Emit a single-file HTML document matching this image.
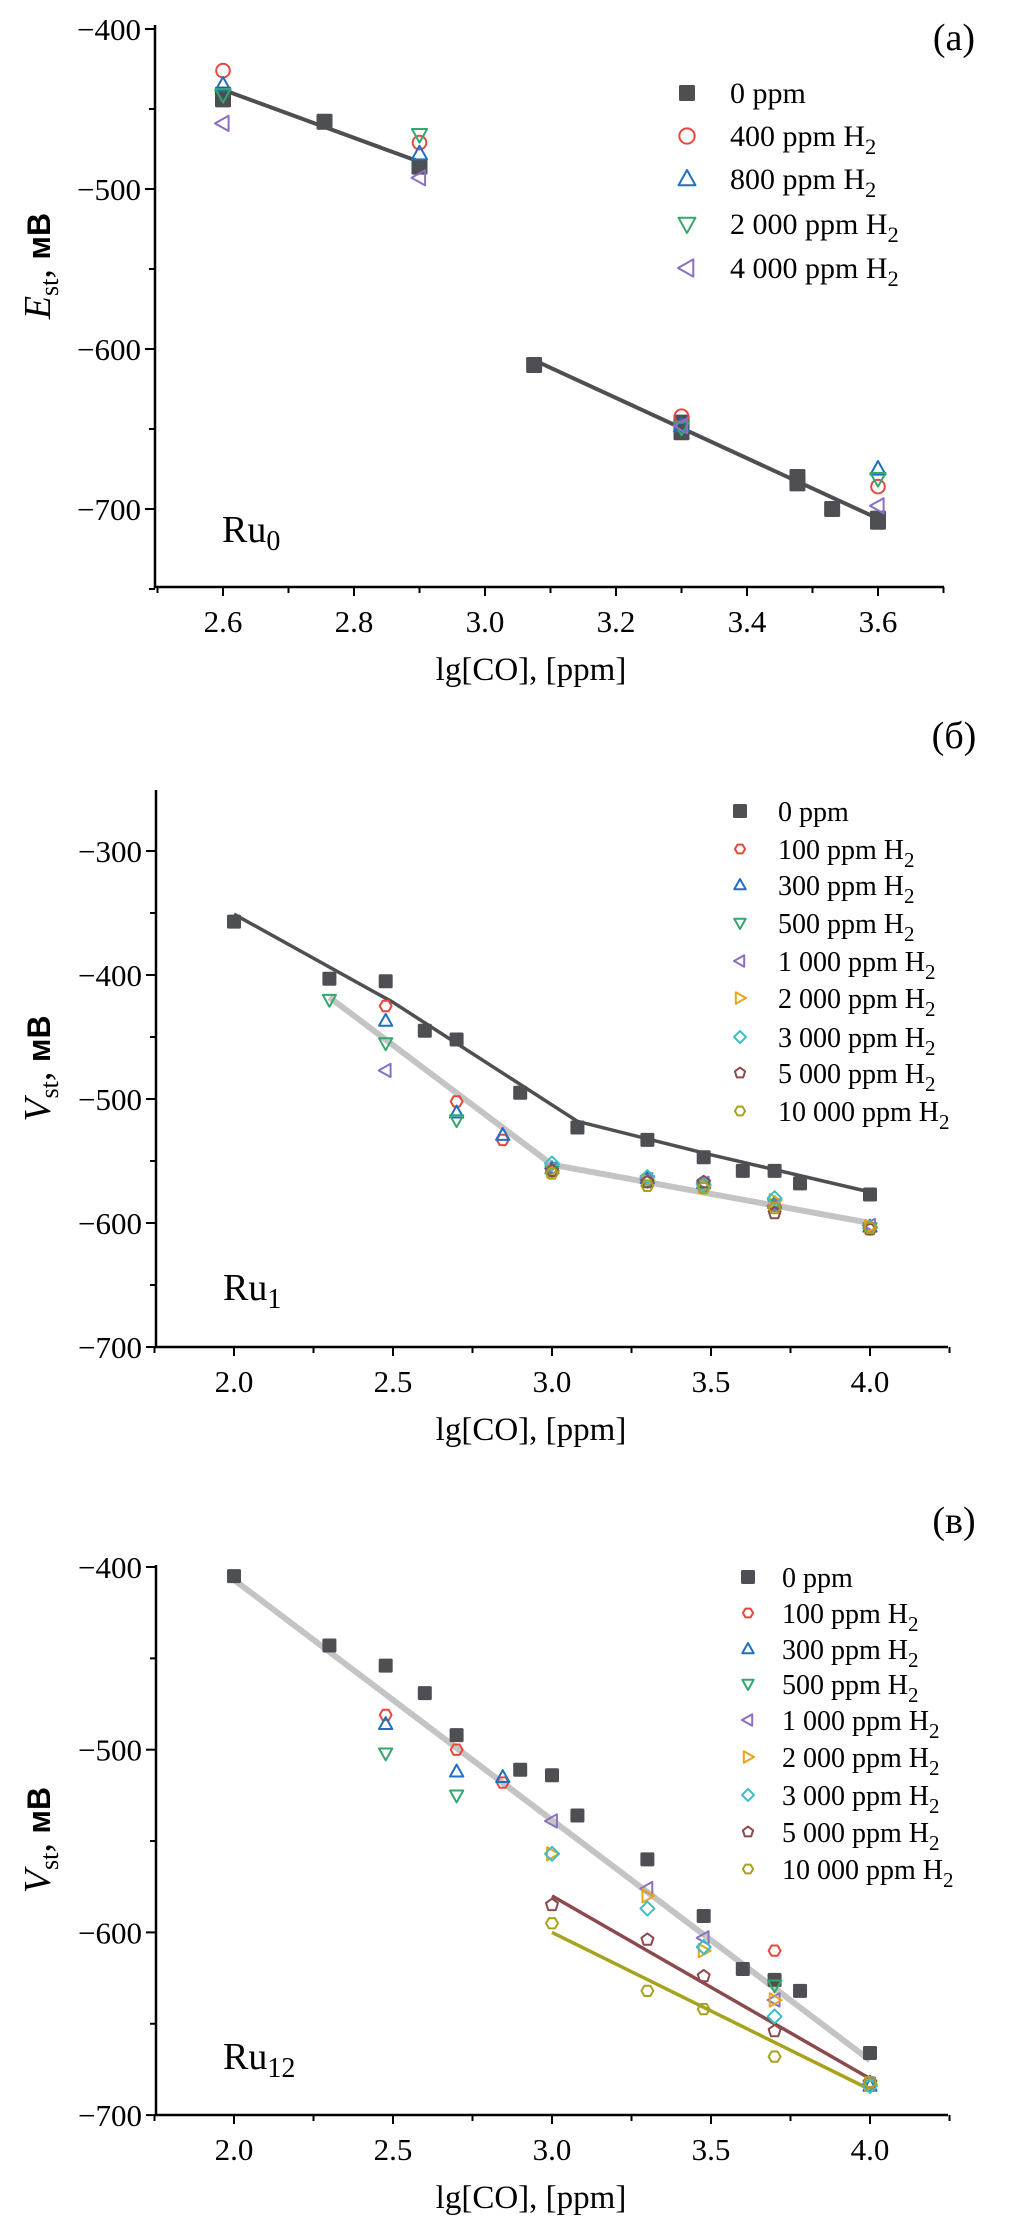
<!DOCTYPE html>
<html><head><meta charset="utf-8">
<style>
html,body{margin:0;padding:0;background:#fff;}
svg{display:block;}
text{font-family:"Liberation Serif",serif;fill:#000;}
</style></head>
<body>
<svg id="fig" width="1010" height="2228" viewBox="0 0 1010 2228" xmlns="http://www.w3.org/2000/svg"></svg>
<script>
// ---------- Panel A data ----------
const aX0 = [2.6,2.6,2.755,2.9,3.075,3.3,3.3,3.477,3.477,3.53,3.6,3.6];
const aY0 = [-441,-444,-458,-486,-610,-646,-652,-680,-684,-700,-706,-708];
const aX400 = [2.6,2.9,3.3,3.6];
const aY400 = [-426,-471,-642,-686];
const aX800 = [2.6,2.9,3.3,3.6];
const aY800 = [-435,-478,-648,-675];
const aX2000 = [2.6,2.9,3.3,3.6];
const aY2000 = [-441,-466,-649,-681];
const aX4000 = [2.6,2.9,3.3,3.6];
const aY4000 = [-459,-493,-648,-698];
const aFit1X = [2.6,2.9]; const aFit1Y = [-438,-483];
const aFit2X = [3.075,3.6]; const aFit2Y = [-607,-706];
const aXTicks = ["2.6","2.8","3.0","3.2","3.4","3.6"];
const aYTicks = ["−400","−500","−600","−700"];

// ---------- Panel B data ----------
const bX0 = [2.0,2.3,2.477,2.6,2.7,2.9,3.08,3.3,3.477,3.6,3.7,3.78,4.0];
const bY0 = [-357,-403,-405,-445,-452,-495,-523,-533,-547,-558,-558,-568,-577];
const bX100 = [2.477,2.7,2.845,3.0,3.3,3.477,3.7,4.0];
const bY100 = [-425,-502,-533,-557,-565,-570,-586,-605];
const bX300 = [2.477,2.7,2.845,3.0,3.3,3.477,3.7,4.0];
const bY300 = [-437,-511,-529,-556,-564,-568,-584,-603];
const bX500 = [2.3,2.477,2.7,3.0,3.3,3.477,3.7,4.0];
const bY500 = [-420,-455,-517,-558,-566,-570,-585,-604];
const bX1000 = [2.477,3.0,3.3,3.477,3.7,4.0];
const bY1000 = [-477,-556,-565,-568,-586,-602];
const bX2000 = [3.0,3.3,3.477,3.7,4.0];
const bY2000 = [-558,-566,-570,-582,-603];
const bX3000 = [3.0,3.3,3.477,3.7,4.0];
const bY3000 = [-552,-563,-569,-580,-604];
const bX5000 = [3.0,3.3,3.477,3.7,4.0];
const bY5000 = [-558,-567,-567,-592,-605];
const bX10000 = [3.0,3.3,3.477,3.7,4.0];
const bY10000 = [-560,-570,-572,-588,-604];
const bFitDarkX = [2.0,2.5,3.08,3.5,4.0]; const bFitDarkY = [-351,-422,-518,-545,-575];
const bFitGrayX = [2.3,3.0,4.0]; const bFitGrayY = [-418,-553,-600];
const bXTicks = ["2.0","2.5","3.0","3.5","4.0"];
const bYTicks = ["−300","−400","−500","−600","−700"];

// ---------- Panel C data ----------
const cX0 = [2.0,2.3,2.477,2.6,2.7,2.9,3.0,3.08,3.3,3.477,3.6,3.7,3.78,4.0];
const cY0 = [-405,-443,-454,-469,-492,-511,-514,-536,-560,-591,-620,-626,-632,-666];
const cX100 = [2.477,2.7,2.845,3.7,4.0];
const cY100 = [-481,-500,-518,-610,-682];
const cX300 = [2.477,2.7,2.845,4.0];
const cY300 = [-486,-512,-515,-684];
const cX500 = [2.477,2.7,3.7,4.0];
const cY500 = [-502,-525,-629,-684];
const cX1000 = [3.0,3.3,3.477,3.7,4.0];
const cY1000 = [-539,-576,-603,-637,-683];
const cX2000 = [3.0,3.3,3.477,3.7,4.0];
const cY2000 = [-557,-580,-610,-637,-683];
const cX3000 = [3.0,3.3,3.477,3.7,4.0];
const cY3000 = [-557,-587,-608,-646,-684];
const cX5000 = [3.0,3.3,3.477,3.7,4.0];
const cY5000 = [-585,-604,-624,-654,-682];
const cX10000 = [3.0,3.3,3.477,3.7,4.0];
const cY10000 = [-595,-632,-642,-668,-682];
const cFitGrayX = [2.0,4.0]; const cFitGrayY = [-407,-670];
const cFitBrownX = [3.0,4.0]; const cFitBrownY = [-580,-680];
const cFitOliveX = [3.0,4.0]; const cFitOliveY = [-600,-686];
const cYTicks = ["−400","−500","−600","−700"];

const NS = "http://www.w3.org/2000/svg";
const svg = document.getElementById('fig');
function el(tag, attrs, parent){
  const e = document.createElementNS(NS, tag);
  for (const k in attrs) e.setAttribute(k, attrs[k]);
  (parent||svg).appendChild(e);
  return e;
}
const COL = {k:"#4d4f52",r:"#e5483f",b:"#1f6fc2",g:"#34a86c",p:"#8a70c0",o:"#e6a51c",c:"#3dbfc4",br:"#8b4a4e",ol:"#a8a21e"};

function marker(g, shape, color, cx, cy, s){
  let m;
  const sw = 2;
  if (shape==="sq") m = el('rect',{x:cx-s,y:cy-s,width:2*s,height:2*s,fill:color,rx:1.5},g);
  else if (shape==="ci") m = el('circle',{cx:cx,cy:cy,r:s*0.85,fill:"none",stroke:color,"stroke-width":sw},g);
  else {
    let pts;
    if (shape==="tu") pts=[[0,-s],[s*0.95,s*0.7],[-s*0.95,s*0.7]];
    else if (shape==="td") pts=[[0,s],[s*0.95,-s*0.7],[-s*0.95,-s*0.7]];
    else if (shape==="tl") pts=[[-s,0],[s*0.7,-s*0.95],[s*0.7,s*0.95]];
    else if (shape==="tr") pts=[[s,0],[-s*0.7,-s*0.95],[-s*0.7,s*0.95]];
    else if (shape==="di") pts=[[0,-s],[s,0],[0,s],[-s,0]];
    else if (shape==="pe"){pts=[];for(let i=0;i<5;i++){const a=-Math.PI/2+i*2*Math.PI/5;pts.push([s*0.9*Math.cos(a),s*0.9*Math.sin(a)]);}}
    else {pts=[];for(let i=0;i<6;i++){const a=i*Math.PI/3;pts.push([s*0.85*Math.cos(a),s*0.85*Math.sin(a)]);}}
    m = el('polygon',{points:pts.map(p=>(cx+p[0]).toFixed(1)+","+(cy+p[1]).toFixed(1)).join(" "),fill:"none",stroke:color,"stroke-width":sw,"stroke-linejoin":"round"},g);
  }
  return m;
}

function panel(cfg){
  const g = el('g',{});
  
  
  const X = v => cfg.x0 + (v - cfg.xv0) * cfg.xs;
  const Y = v => cfg.y0 + (v - cfg.yv0) * cfg.ys;
  const ax = el('path',{d:`M${cfg.axL},${cfg.axTop} L${cfg.axL},${cfg.axBot} L${cfg.axR},${cfg.axBot}`,fill:"none",stroke:"#000","stroke-width":2.5},g);
  
  
  for (let v=cfg.xMinorStart; v<=cfg.xMax+1e-9; v+=cfg.xMinor){
    const px = X(v);
    const major = Math.abs(v/cfg.xMajor - Math.round(v/cfg.xMajor))<1e-6;
    el('line',{x1:px,x2:px,y1:cfg.axBot,y2:cfg.axBot+(major?9:6),stroke:"#000","stroke-width":2},g);
  }
  cfg.xTicks.forEach(t=>{
    const tx = el('text',{x:X(parseFloat(t)),y:cfg.axBot+45,"text-anchor":"middle","font-size":31},g);
    tx.textContent = t;
    
    
  });
  for (let v=cfg.yMinorStart; v<=cfg.yMax+1e-9; v+=50){
    const py = Y(v);
    const major = Math.abs(v % 100) < 1e-6;
    el('line',{x1:cfg.axL,x2:cfg.axL-(major?10:6),y1:py,y2:py,stroke:"#000","stroke-width":2},g);
  }
  cfg.yTicks.forEach(t=>{
    const v = -parseFloat(t.replace("−",""));
    const ty = el('text',{x:cfg.axL-14,y:Y(v)+11,"text-anchor":"end","font-size":31},g);
    ty.textContent = t;
    
    
  });
  cfg.fits.forEach(f=>{
    const pl = el('polyline',{points:f.xs.map((x,i)=>X(x).toFixed(1)+","+Y(f.ys[i]).toFixed(1)).join(" "),fill:"none",stroke:f.color,"stroke-width":f.w,"stroke-linejoin":"round"},g);
    
    
  });
  cfg.series.forEach(s=>{
    const sg = el('g',{},g);
    
    
    s.xs.forEach((x,i)=>{
      const m = marker(sg, s.shape, s.color, X(x), Y(s.ys[i]), s.shape==="sq"?cfg.sqSize:cfg.mSize);
      
      
    });
  });
  const lg = el('g',{},g);
  
  
  cfg.series.forEach((s,i)=>{
    const cy = cfg.legY[i];
    const le = el('g',{},lg);
    
    
    marker(le, s.shape, s.color, cfg.legMX, cy, s.shape==="sq"?cfg.legSq:cfg.legM);
    const t = el('text',{x:cfg.legTX,y:cy+10,"font-size":cfg.legFont},le);
    t.textContent = s.label;
    if (s.label.endsWith(" H")){
      const sub = el('tspan',{dy:8,"font-size":cfg.legFont*0.75},t);
      sub.textContent = "2";
    }
  });
  const pl = el('text',{x:cfg.letterX,y:cfg.letterY,"text-anchor":"middle","font-size":38},g);
  pl.textContent = cfg.letter;
  
  
  const sl = el('text',{x:cfg.axL+67,y:cfg.sampleY,"font-size":38},g);
  sl.textContent = "Ru";
  const ss = el('tspan',{dy:8,"font-size":28},sl);
  ss.textContent = cfg.sampleSub;
  
  
  const xt = el('text',{x:531,y:cfg.axBot+93,"text-anchor":"middle","font-size":33},g);
  xt.textContent = "lg[CO], [ppm]";
  
  
  const cy = (cfg.axTop+cfg.axBot)/2 + cfg.yTitleShift;
  const yt = el('text',{x:0,y:0,"text-anchor":"middle","font-size":38,transform:`translate(50,${cy}) rotate(-90)`},g);
  const t1 = el('tspan',{"font-style":"italic"},yt); t1.textContent = cfg.yVar;
  const t2 = el('tspan',{dy:8,"font-size":26},yt); t2.textContent = "st";
  const t3 = el('tspan',{dy:-8},yt); t3.textContent = ", ";
  const t4 = el('tspan',{"font-family":"'Liberation Sans',sans-serif","font-weight":"bold","font-size":32},yt); t4.textContent = "мВ";
  
  
}

panel({name:"panel-a",x0:223,xv0:2.6,xs:655,y0:29,yv0:-400,ys:-1.6,
  axL:155,axR:944,axTop:25,axBot:587,xMinorStart:2.5,xMinor:0.1,xMajor:0.2,xMax:3.7,
  yMinorStart:-750,yMax:-400,xTicks:aXTicks,yTicks:aYTicks,sqSize:8,mSize:8,
  fits:[{xs:aFit1X,ys:aFit1Y,color:"#4d4f52",w:4},{xs:aFit2X,ys:aFit2Y,color:"#4d4f52",w:4}],
  series:[
    {label:"0 ppm",shape:"sq",color:COL.k,xs:aX0,ys:aY0},
    {label:"400 ppm H",shape:"ci",color:COL.r,xs:aX400,ys:aY400},
    {label:"800 ppm H",shape:"tu",color:COL.b,xs:aX800,ys:aY800},
    {label:"2 000 ppm H",shape:"td",color:COL.g,xs:aX2000,ys:aY2000},
    {label:"4 000 ppm H",shape:"tl",color:COL.p,xs:aX4000,ys:aY4000}],
  legY:[93,136,179,224,268],legMX:687,legTX:730,legFont:30,legSq:8,legM:9,
  letter:"(a)",letterX:954,letterY:50,sampleY:542,sampleSub:"0",yVar:"E",yTitleShift:-40});

panel({name:"panel-b",x0:234,xv0:2.0,xs:318,y0:851,yv0:-300,ys:-1.24,
  axL:156,axR:948,axTop:790,axBot:1347,xMinorStart:1.75,xMinor:0.25,xMajor:0.5,xMax:4.25,
  yMinorStart:-700,yMax:-260,xTicks:bXTicks,yTicks:bYTicks,sqSize:7,mSize:7,
  fits:[{xs:bFitGrayX,ys:bFitGrayY,color:"#c4c4c4",w:6},{xs:bFitDarkX,ys:bFitDarkY,color:"#4d4f52",w:3.5}],
  series:[
    {label:"0 ppm",shape:"sq",color:COL.k,xs:bX0,ys:bY0},
    {label:"100 ppm H",shape:"hx",color:COL.r,xs:bX100,ys:bY100},
    {label:"300 ppm H",shape:"tu",color:COL.b,xs:bX300,ys:bY300},
    {label:"500 ppm H",shape:"td",color:COL.g,xs:bX500,ys:bY500},
    {label:"1 000 ppm H",shape:"tl",color:COL.p,xs:bX1000,ys:bY1000},
    {label:"2 000 ppm H",shape:"tr",color:COL.o,xs:bX2000,ys:bY2000},
    {label:"3 000 ppm H",shape:"di",color:COL.c,xs:bX3000,ys:bY3000},
    {label:"5 000 ppm H",shape:"pe",color:COL.br,xs:bX5000,ys:bY5000},
    {label:"10 000 ppm H",shape:"hx",color:COL.ol,xs:bX10000,ys:bY10000}],
  legY:[811,849,885,923,961,998,1037,1073,1111],legMX:740,legTX:778,legFont:28,legSq:7,legM:6,
  letter:"(б)",letterX:954,letterY:748,sampleY:1300,sampleSub:"1",yVar:"V",yTitleShift:0});

panel({name:"panel-c",x0:234,xv0:2.0,xs:318,y0:1567,yv0:-400,ys:-1.827,
  axL:156,axR:948,axTop:1565,axBot:2115,xMinorStart:1.75,xMinor:0.25,xMajor:0.5,xMax:4.25,
  yMinorStart:-700,yMax:-400,xTicks:bXTicks,yTicks:cYTicks,sqSize:7,mSize:7,
  fits:[{xs:cFitGrayX,ys:cFitGrayY,color:"#c4c4c4",w:6},{xs:cFitBrownX,ys:cFitBrownY,color:"#8b4a4e",w:3.5},{xs:cFitOliveX,ys:cFitOliveY,color:"#a8a21e",w:3.5}],
  series:[
    {label:"0 ppm",shape:"sq",color:COL.k,xs:cX0,ys:cY0},
    {label:"100 ppm H",shape:"hx",color:COL.r,xs:cX100,ys:cY100},
    {label:"300 ppm H",shape:"tu",color:COL.b,xs:cX300,ys:cY300},
    {label:"500 ppm H",shape:"td",color:COL.g,xs:cX500,ys:cY500},
    {label:"1 000 ppm H",shape:"tl",color:COL.p,xs:cX1000,ys:cY1000},
    {label:"2 000 ppm H",shape:"tr",color:COL.o,xs:cX2000,ys:cY2000},
    {label:"3 000 ppm H",shape:"di",color:COL.c,xs:cX3000,ys:cY3000},
    {label:"5 000 ppm H",shape:"pe",color:COL.br,xs:cX5000,ys:cY5000},
    {label:"10 000 ppm H",shape:"hx",color:COL.ol,xs:cX10000,ys:cY10000}],
  legY:[1577,1613,1649,1684,1720,1757,1795,1832,1869],legMX:748,legTX:782,legFont:28,legSq:7,legM:6,
  letter:"(в)",letterX:954,letterY:1533,sampleY:2069,sampleSub:"12",yVar:"V",yTitleShift:0});
</script>
</body></html>
